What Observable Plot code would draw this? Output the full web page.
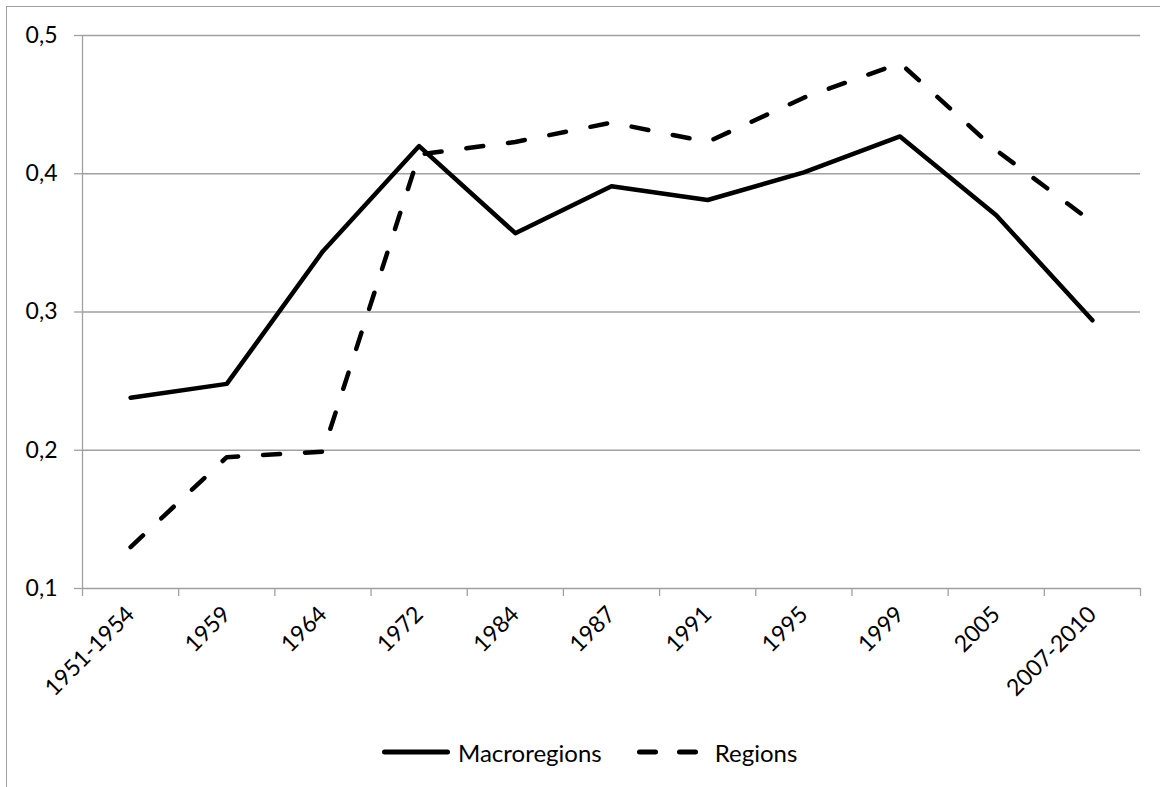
<!DOCTYPE html>
<html>
<head>
<meta charset="utf-8">
<script src="https://cdn.jsdelivr.net/npm/d3@7"></script>
<script src="https://cdn.jsdelivr.net/npm/@observablehq/plot@0.6"></script>
<style>
  html, body { margin: 0; padding: 0; background: #fff; overflow: hidden; width: 1160px; height: 787px; }
  #frame { position: absolute; left: 6px; top: 6px; width: 1300px; height: 900px; border-top: 1.5px solid #a0a0a0; border-left: 1.5px solid #a0a0a0; }
  #chart { position: absolute; left: 0; top: 0; }
  #legend { position: absolute; left: 382px; top: 737px; height: 30px; display: flex; align-items: center; font-family: Lato, sans-serif; font-size: 24px; color: #000; }
  #legend .item { display: flex; align-items: center; }
  #legend svg { display: block; }
</style>
</head>
<body>
<div id="frame"></div>
<div id="chart"></div>
<div id="legend"></div>
<script>
const categories = ["1951-1954","1959","1964","1972","1984","1987","1991","1995","1999","2005","2007-2010"];
const macroregions = [0.238,0.248,0.344,0.420,0.357,0.391,0.381,0.401,0.427,0.370,0.294];
const regions = [0.130,0.195,0.199,0.414,0.423,0.437,0.423,0.455,0.480,0.417,0.365];
const yTicks = [0.1,0.2,0.3,0.4,0.5];
const seriesNames = ["Macroregions","Regions"];

const gray = "#a0a0a0";
const dash = "17,25";
const fmt = d => d.toFixed(1).replace(".", ",");

const macroData = categories.map((c, i) => ({x: i + 0.5, value: macroregions[i]}));
const regionData = categories.map((c, i) => ({x: i + 0.5, value: regions[i]}));
const boundaries = d3.range(categories.length + 1);
const centers = categories.map((c, i) => i + 0.5);

const chart = Plot.plot({
  width: 1160,
  height: 730,
  marginLeft: 82,
  marginRight: 20,
  marginTop: 35,
  marginBottom: 142,
  x: {type: "linear", domain: [0, categories.length], axis: null, label: null},
  y: {domain: [0.1, 0.5], axis: null, label: null},
  style: {fontFamily: "Lato, sans-serif", fontSize: "23px", background: "transparent", color: "#000", overflow: "visible"},
  marks: [
    Plot.gridY(yTicks, {stroke: gray, strokeOpacity: 1, strokeWidth: 1.3}),
    Plot.ruleX([0], {stroke: gray, strokeWidth: 1.3}),
    Plot.axisY(yTicks, {tickSize: 8, tickPadding: 17, stroke: gray, strokeWidth: 1.3, fill: "#000", tickFormat: fmt, fontSize: 23, label: null}),
    Plot.axisX(boundaries, {tickSize: 8, stroke: gray, strokeWidth: 1.3, tickFormat: () => "", label: null}),
    Plot.axisX(centers, {tickSize: 0, tickPadding: 22, tickRotate: -45, fill: "#000", fontSize: 23, label: null, tickFormat: d => categories[Math.round(d - 0.5)]}),
    Plot.line(macroData, {x: "x", y: "value", stroke: "#000", strokeWidth: 4.5, strokeLinejoin: "round"}),
    Plot.line(regionData, {x: "x", y: "value", stroke: "#000", strokeWidth: 4.5, strokeDasharray: dash, strokeLinecap: "round", strokeLinejoin: "round"})
  ]
});
document.getElementById("chart").appendChild(chart);

// Legend
const legend = document.getElementById("legend");
seriesNames.forEach((name, k) => {
  const item = document.createElement("div");
  item.className = "item";
  const w = k === 0 ? 68 : 62;
  const svg = d3.create("svg").attr("width", w).attr("height", 30);
  svg.append("line")
    .attr("x1", 2.5).attr("x2", w - 2.5).attr("y1", 15).attr("y2", 15)
    .attr("stroke", "#000").attr("stroke-width", 5).attr("stroke-linecap", "round")
    .attr("stroke-dasharray", k === 0 ? null : "16,24");
  item.appendChild(svg.node());
  const label = document.createElement("span");
  label.textContent = name;
  label.style.marginLeft = k === 0 ? "8px" : "16px";
  item.appendChild(label);
  if (k === 0) item.style.marginRight = "35px";
  legend.appendChild(item);
});
</script>
</body>
</html>
